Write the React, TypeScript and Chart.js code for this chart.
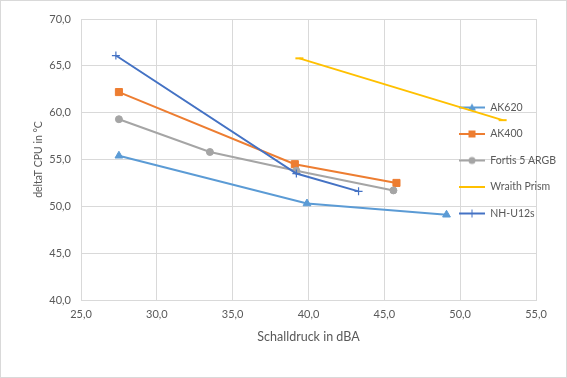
import React, { useEffect, useRef } from 'react';
import { Chart, registerables } from 'chart.js';

Chart.register(...registerables);

const seriesNames = ['AK620', 'AK400', 'Fortis 5 ARGB', 'Wraith Prism', 'NH-U12s'];
const seriesColors = ['#5B9BD5', '#ED7D31', '#A5A5A5', '#FFC000', '#4472C4'];
const seriesMarkers = ['triangle', 'rect', 'circle', 'line', 'cross'];

const ak620X = [27.5, 39.9, 49.1];
const ak620Y = [55.4, 50.3, 49.1];
const ak400X = [27.5, 39.1, 45.8];
const ak400Y = [62.2, 54.5, 52.5];
const fortisX = [27.5, 33.5, 39.2, 45.6];
const fortisY = [59.3, 55.8, 53.8, 51.7];
const wraithX = [39.4, 52.8];
const wraithY = [65.8, 59.2];
const nhX = [27.3, 39.2, 43.3];
const nhY = [66.1, 53.5, 51.6];

const xTickValues = [25, 30, 35, 40, 45, 50, 55];
const yTickValues = [40, 45, 50, 55, 60, 65, 70];

const xTitle = 'Schalldruck in dBA';
const yTitle = 'deltaT CPU in °C';

const FONT = 'Lato, "Open Sans", sans-serif';
const TEXT = '#595959';
const GRID = '#D9D9D9';

function pts(xs: number[], ys: number[]) {
  return xs.map((x, i) => ({ x, y: ys[i] }));
}

function legendGlyph(color: string, marker: string): HTMLCanvasElement {
  const c = document.createElement('canvas');
  c.width = 26;
  c.height = 12;
  const ctx = c.getContext('2d')!;
  ctx.strokeStyle = color;
  ctx.fillStyle = color;
  ctx.lineWidth = 2;
  ctx.beginPath();
  ctx.moveTo(0, 6);
  ctx.lineTo(26, 6);
  ctx.stroke();
  const cx = 13, cy = 6;
  ctx.lineWidth = 1;
  ctx.beginPath();
  if (marker === 'triangle') {
    ctx.moveTo(cx, cy - 4);
    ctx.lineTo(cx + 4, cy + 3);
    ctx.lineTo(cx - 4, cy + 3);
    ctx.closePath();
    ctx.fill();
  } else if (marker === 'rect') {
    ctx.rect(cx - 3.5, cy - 3.5, 7, 7);
    ctx.fill();
  } else if (marker === 'circle') {
    ctx.arc(cx, cy, 3.5, 0, Math.PI * 2);
    ctx.fill();
  } else if (marker === 'cross') {
    ctx.moveTo(cx, cy - 4);
    ctx.lineTo(cx, cy + 4);
    ctx.stroke();
  }
  return c;
}

const fmt = (v: number | string) => Number(v).toFixed(1).replace('.', ',');

export default function App() {
  const ref = useRef<HTMLCanvasElement>(null);

  useEffect(() => {
    document.body.style.margin = '0';
    const xsList = [ak620X, ak400X, fortisX, wraithX, nhX];
    const ysList = [ak620Y, ak400Y, fortisY, wraithY, nhY];
    const radii = [4.5, 5, 3.5, 4, 4];
    const pbw = [1, 1, 1, 2, 1.2];
    const datasets = seriesNames.map((name, i) => ({
      label: name,
      data: pts(xsList[i], ysList[i]),
      showLine: true,
      borderColor: seriesColors[i],
      backgroundColor: seriesColors[i],
      borderWidth: 2,
      pointStyle: seriesMarkers[i] as any,
      pointRadius: radii[i],
      pointBorderWidth: pbw[i],
      pointBackgroundColor: seriesColors[i],
      pointBorderColor: seriesColors[i],
      order: seriesNames.length - i,
    }));

    const legendPlacer = {
      id: 'legendPlacer',
      afterLayout(chart: any) {
        const lg = chart.legend;
        if (!lg) return;
        const w = lg.right - lg.left;
        lg.left = 442;
        lg.right = 442 + w;
        lg.top += 19;
        lg.bottom += 19;
      },
    };

    const chart = new Chart(ref.current!, {
      type: 'scatter',
      data: { datasets: datasets as any },
      plugins: [legendPlacer],
      options: {
        animation: false,
        responsive: false,
        layout: { padding: { top: 18, right: 30, left: 0, bottom: 0 } },
        plugins: {
          tooltip: { enabled: false },
          legend: {
            position: 'chartArea' as any,
            align: 'center',
            labels: {
              usePointStyle: true,
              pointStyleWidth: 26,
              padding: 16,
              color: TEXT,
              font: { family: FONT, size: 10.5 },
              sort: (a: any, b: any) => a.datasetIndex - b.datasetIndex,
              generateLabels: (chart: any) => {
                const items = Chart.defaults.plugins.legend.labels.generateLabels(chart);
                return items.map((it: any) => ({
                  ...it,
                  pointStyle: legendGlyph(seriesColors[it.datasetIndex], seriesMarkers[it.datasetIndex]),
                  fontColor: TEXT,
                }));
              },
            },
          },
        },
        scales: {
          x: {
            type: 'linear',
            min: 25,
            max: 55,
            afterBuildTicks: (s: any) => { s.ticks = xTickValues.map((v) => ({ value: v })); },
            afterFit: (s: any) => { s.height = 77; },
            ticks: { callback: fmt, color: TEXT, font: { family: FONT, size: 11 }, padding: 8 },
            grid: { color: GRID, drawTicks: false },
            border: { color: GRID },
            title: { display: true, text: xTitle, color: TEXT, font: { family: FONT, size: 12.5 }, padding: { top: 0, bottom: 33 } },
          },
          y: {
            type: 'linear',
            min: 40,
            max: 70,
            afterBuildTicks: (s: any) => { s.ticks = yTickValues.map((v) => ({ value: v })); },
            afterFit: (s: any) => { s.width = 80; },
            ticks: { callback: fmt, color: TEXT, font: { family: FONT, size: 11 }, padding: 10 },
            grid: { color: GRID, drawTicks: false },
            border: { color: GRID },
            title: { display: true, text: yTitle, color: TEXT, font: { family: FONT, size: 10.5 }, padding: { top: 31, bottom: 0 } },
          },
        },
      },
    });
    return () => chart.destroy();
  }, []);

  return (
    <div style={{ width: 567, height: 378, boxSizing: 'border-box', border: '1px solid #D9D9D9', background: '#fff' }}>
      <canvas ref={ref} width={565} height={376} style={{ display: 'block', width: 565, height: 376 }} />
    </div>
  );
}
